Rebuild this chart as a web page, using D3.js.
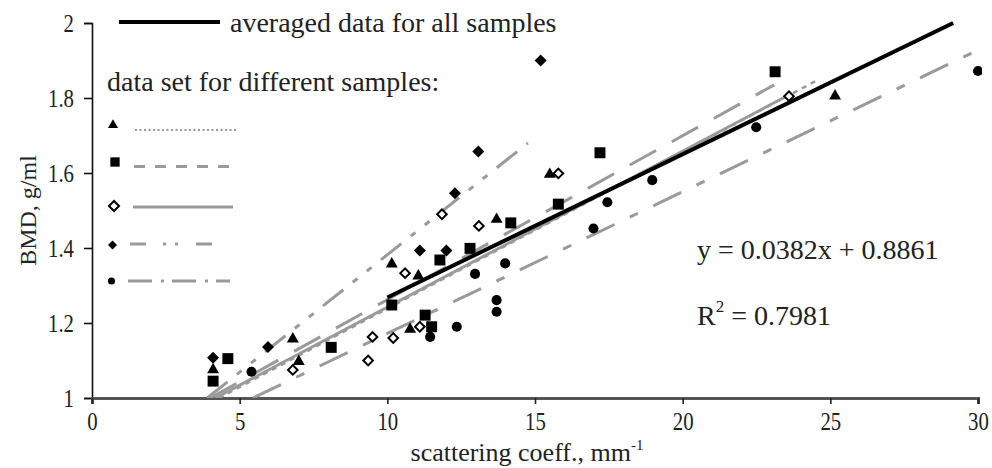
<!DOCTYPE html>
<html><head><meta charset="utf-8">
<script src="https://cdn.jsdelivr.net/npm/d3@7"></script>
<style>
html,body{margin:0;padding:0;background:#fff;}
svg text{font-family:"Liberation Serif","Times New Roman",serif;fill:#222;}
</style></head>
<body>
<svg id="chart" width="992" height="468"></svg>
<script>
// ---------- data ----------
const xTicks = [0, 5, 10, 15, 20, 25, 30];
const yTicks = [1, 1.2, 1.4, 1.6, 1.8, 2];
const xTitle = "scattering coeff., mm";
const yTitle = "BMD, g/ml";

// series points [x, y]
const triangles = [[4.1,1.078],[6.8,1.16],[7.0,1.10],[10.15,1.36],[10.77,1.186],[11.05,1.328],[13.7,1.479],[15.5,1.599],[25.16,1.808]];
const squares = [[4.1,1.045],[4.6,1.105],[8.1,1.135],[10.15,1.248],[11.28,1.221],[11.5,1.19],[11.78,1.368],[12.8,1.399],[14.18,1.467],[15.79,1.517],[17.2,1.654],[23.13,1.87]];
const openDiamonds = [[6.8,1.075],[9.35,1.10],[9.5,1.163],[10.2,1.16],[10.6,1.333],[11.1,1.19],[11.85,1.49],[13.1,1.459],[15.79,1.599],[23.6,1.805]];
const filledDiamonds = [[4.1,1.107],[5.96,1.136],[11.1,1.393],[12.0,1.393],[12.29,1.546],[13.08,1.657],[15.19,1.90]];
const dots = [[5.4,1.07],[11.45,1.163],[12.35,1.19],[13.7,1.23],[13.7,1.261],[12.97,1.331],[13.99,1.359],[16.98,1.452],[17.45,1.522],[18.97,1.581],[22.49,1.722],[30.0,1.872]];

// per-sample trend lines: [[x0,y0],[x1,y1]]
const triangleFit = [[4.3,1.0],[24.5,1.845]];
const squareFit = [[4.0,1.0],[23.1,1.835]];
const openDiamondFit = [[4.18,1.0],[23.64,1.81]];
const filledDiamondFit = [[3.9,1.0],[14.76,1.68]];
const dotFit = [[5.45,1.0],[30.0,1.928]];

// averaged fit
const avgSlope = 0.0382, avgIntercept = 0.8861;
const avgRange = [10, (2 - 0.8861) / 0.0382];
const eqText = "y = 0.0382x + 0.8861";
const r2Text = "0.7981";
const legendMain = "averaged data for all samples";
const legendSub = "data set for different samples:";

// ---------- drawing ----------
const svg = d3.select("#chart");
const x = d3.scaleLinear().domain([0, 30]).range([92, 978]);
const y = d3.scaleLinear().domain([1, 2]).range([398, 23]);
const gray = "#9a9a9a";
const line = d3.line().x(d => x(d[0])).y(d => y(d[1]));

// axes
const yAxis = svg.append("g").attr("transform", `translate(${x(0)},0)`)
  .call(d3.axisLeft(y).tickValues(yTicks).tickSize(8).tickPadding(10).tickFormat(d3.format("~g")));
yAxis.select(".domain").attr("stroke", "#111").attr("stroke-width", 1.6);
yAxis.selectAll(".tick line").attr("stroke", "#111").attr("stroke-width", 1.6);
yAxis.selectAll(".tick text").attr("font-size", 26).attr("fill", "#222")
  .attr("font-family", "Liberation Serif, serif")
  .attr("transform", function(){ const xx = +d3.select(this).attr("x"); return `translate(${xx},0) scale(0.8,1) translate(${-xx},0)`; });

const xAxis = svg.append("g").attr("transform", `translate(0,${y(1)})`)
  .call(d3.axisBottom(x).tickValues(xTicks).tickSize(6).tickPadding(8).tickFormat(d3.format("d")));
xAxis.select(".domain").attr("stroke", "#555").attr("stroke-width", 3);
xAxis.selectAll(".tick line").attr("stroke", "#222").attr("stroke-width", 1.6);
xAxis.selectAll(".tick text").attr("font-size", 26).attr("fill", "#222")
  .attr("font-family", "Liberation Serif, serif")
  .attr("transform", "scale(0.8,1)");

// axis titles
const xt = svg.append("text").attr("x", x(15) - 8).attr("y", 461).attr("text-anchor", "middle")
  .attr("font-size", 26);
xt.append("tspan").text(xTitle);
xt.append("tspan").attr("font-size", 15).attr("dy", -11).text("-1");

svg.append("text").attr("transform", `translate(36,${y(1.5)}) rotate(-90)`)
  .attr("text-anchor", "middle").attr("font-size", 24).text(yTitle);

// plot clip
svg.append("clipPath").attr("id", "clip").append("rect")
  .attr("x", x(0)).attr("y", y(2) - 4).attr("width", x(30) - x(0) + 4).attr("height", y(1) - y(2) + 4);
const plot = svg.append("g").attr("clip-path", "url(#clip)");

// series definitions (styles)
const series = [
  {pts: triangles, fit: triangleFit, sym: "tri", dash: "5,5", ldash: "2,2.5", lw: 2},
  {pts: squares, fit: squareFit, sym: "sq", dash: "30,18", ldash: "11,10", lw: 3},
  {pts: openDiamonds, fit: openDiamondFit, sym: "odia", dash: null, ldash: null, lw: 3},
  {pts: filledDiamonds, fit: filledDiamondFit, sym: "fdia", dash: "26,12,6,12,6,12", ldash: "16,17,3,9,3,18", lw: 3},
  {pts: dots, fit: dotFit, sym: "dot", dash: "31,17,9,17", ldash: "24,9,3,8", lw: 3}
];

function drawSym(g, kind, cx, cy, scale) {
  const s = scale || 1;
  if (kind === "tri") {
    g.append("path").attr("d", d3.symbol(d3.symbolTriangle, 62 * s * s)())
      .attr("transform", `translate(${cx},${cy + 1})`).attr("fill", "#000");
  } else if (kind === "sq") {
    g.append("path").attr("d", d3.symbol(d3.symbolSquare, 120 * s * s)())
      .attr("transform", `translate(${cx},${cy})`).attr("fill", "#000");
  } else if (kind === "odia") {
    g.append("path").attr("d", d3.symbol(d3.symbolSquare, 46 * s * s)())
      .attr("transform", `translate(${cx},${cy}) rotate(45)`).attr("fill", "#fff")
      .attr("stroke", "#000").attr("stroke-width", 2);
  } else if (kind === "fdia") {
    g.append("path").attr("d", d3.symbol(d3.symbolSquare, 72 * s * s)())
      .attr("transform", `translate(${cx},${cy}) rotate(45)`).attr("fill", "#000");
  } else {
    g.append("path").attr("d", d3.symbol(d3.symbolCircle, 80 * s * s)())
      .attr("transform", `translate(${cx},${cy})`).attr("fill", "#000");
  }
}

// trend lines
series.forEach(s => {
  plot.append("path").attr("d", line(s.fit)).attr("fill", "none")
    .attr("stroke", gray).attr("stroke-width", s.lw === 2 ? 2.5 : 3)
    .attr("stroke-dasharray", s.dash);
});
// averaged line
plot.append("path").attr("d", line(avgRange.map(v => [v, avgSlope * v + avgIntercept])))
  .attr("fill", "none").attr("stroke", "#000").attr("stroke-width", 4);

// markers
const mg = plot.append("g");
series.forEach(s => s.pts.forEach(p => drawSym(mg, s.sym, x(p[0]), y(p[1]), 1)));

// legend
svg.append("line").attr("x1", 119).attr("x2", 220).attr("y1", 22).attr("y2", 22)
  .attr("stroke", "#000").attr("stroke-width", 4);
svg.append("text").attr("x", 230).attr("y", 32).attr("font-size", 28).text(legendMain);
svg.append("text").attr("x", 107).attr("y", 91).attr("font-size", 28).text(legendSub);

const legRows = [
  {my: 124, ly: 130, mx: 113, x1: 135, x2: 236, ms: 0.85},
  {my: 162, ly: 166.5, mx: 115, x1: 134, x2: 231, ms: 0.85},
  {my: 206, ly: 207, mx: 114, x1: 133, x2: 233, ms: 1.05},
  {my: 245, ly: 244, mx: 112.5, x1: 130, x2: 226, ms: 0.75},
  {my: 281, ly: 281, mx: 111.5, x1: 128, x2: 230, ms: 0.7}
];
const lg = svg.append("g");
series.forEach((s, i) => {
  const r = legRows[i];
  drawSym(lg, s.sym, r.mx, r.my, r.ms);
  lg.append("line").attr("x1", r.x1).attr("x2", r.x2).attr("y1", r.ly).attr("y2", r.ly)
    .attr("stroke", gray).attr("stroke-width", i === 0 ? 2 : 3).attr("stroke-dasharray", s.ldash);
});

// equation
svg.append("text").attr("x", 697).attr("y", 259).attr("font-size", 28).text(eqText);
const r2 = svg.append("text").attr("x", 697).attr("y", 325).attr("font-size", 28);
r2.append("tspan").text("R");
r2.append("tspan").attr("font-size", 17).attr("dy", -13).text("2");
r2.append("tspan").attr("dy", 13).text(" = " + r2Text);
</script>
</body></html>
